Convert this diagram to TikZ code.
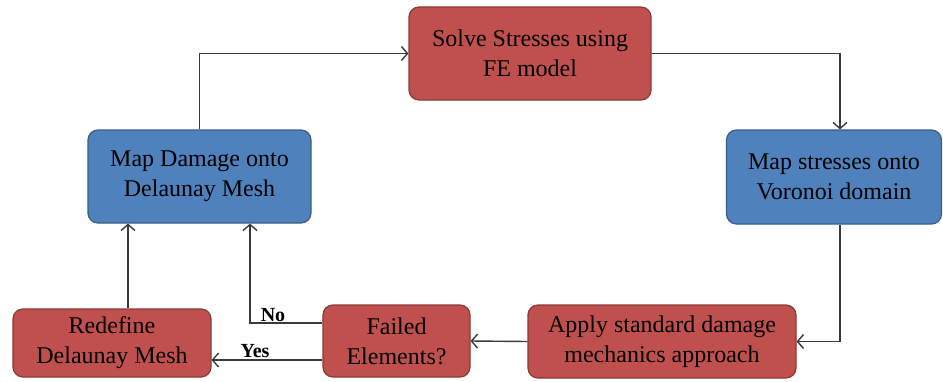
\documentclass[tikz,border=0pt]{standalone}
\usepackage{fontspec}
\setmainfont{Liberation Serif}
\usetikzlibrary{arrows.meta}
\definecolor{redfill}{HTML}{C0504D}
\definecolor{reddraw}{HTML}{8C3836}
\definecolor{bluefill}{HTML}{4F81BD}
\definecolor{bluedraw}{HTML}{385D8A}
\definecolor{linecol}{HTML}{3A3A3A}
\tikzset{
  box/.style={rounded corners=10pt, line width=1.2pt, align=center, inner sep=0pt,
    font=\fontsize{24}{30}\selectfont},
  redbox/.style={box, fill=redfill, draw=reddraw},
  bluebox/.style={box, fill=bluefill, draw=bluedraw},
  arr/.style={draw=linecol, line width=1.4pt, -{Straight Barb[length=6pt,width=14pt]}},
  lab/.style={font=\bfseries\fontsize{20}{22}\selectfont, inner sep=0pt}
}
\begin{document}
\begin{tikzpicture}[x=1pt,y=-1pt]
\useasboundingbox (0,0) rectangle (943,381);
\node[redbox, minimum width=242pt, minimum height=93pt] (solve) at (530,53.5) {Solve Stresses using\\FE model};
\node[bluebox, minimum width=223pt, minimum height=93pt] (mapd) at (199.5,176.5) {Map Damage onto\\Delaunay Mesh};
\node[bluebox, minimum width=215pt, minimum height=94pt] (maps) at (834,177) {Map stresses onto\\Voronoi domain};
\node[redbox, minimum width=268pt, minimum height=73pt] (apply) at (662,341.5) {Apply standard damage\\mechanics approach};
\node[redbox, minimum width=147pt, minimum height=72pt] (failed) at (396.5,341) {Failed\\Elements?};
\node[redbox, minimum width=198pt, minimum height=68pt] (redef) at (112,343) {Redefine\\Delaunay Mesh};

\draw[arr] (mapd.north) |- (solve.west);
\draw[arr] (solve.east) -| ([xshift=6pt]maps.north);
\draw[arr] ([xshift=6pt]maps.south) |- (apply.east);
\draw[arr] (apply.west) -- (failed.east);
\draw[arr] ([yshift=18pt]failed.west) -| ([xshift=50.5pt]mapd.south);
\draw[arr] ([yshift=-19pt]failed.west) coordinate (y1) -- (y1 -| redef.east);
\draw[arr] ([xshift=16pt]redef.north) -- ([xshift=-71.5pt]mapd.south);

\node[lab] (no) at (273,315) {No};
\node[lab] (yes) at (255,351) {Yes};
\end{tikzpicture}
\end{document}
